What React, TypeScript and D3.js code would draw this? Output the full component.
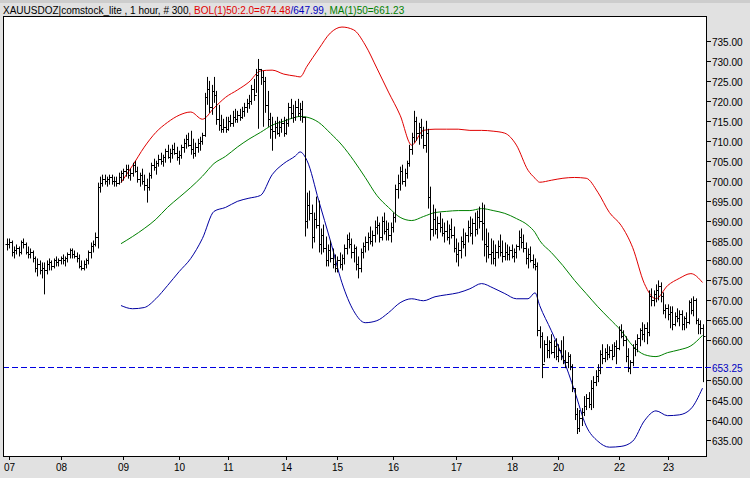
import React from 'react';
import * as d3 from 'd3';

const highs = [
  685.5,685.5,685,683.5,684,683.5,685,685.5,684.5,683.5,
  683,682.5,681,680.5,680,679.5,679.5,680,680.5,680,
  680.5,681,680.5,681,681.5,681,682,683,683,682.5,
  682,681.5,680,680,680.5,682.5,684.5,685,687,699.5,
  701,701.5,701.5,701,701.5,701.5,701,701,702,702.5,
  703,704,704,703,704.5,705,703.5,702,703,701.5,
  700.5,702,704.5,705.5,705,706.5,707,706.5,708,709,
  708,709,709.5,708.5,707.5,709,710.5,711.5,712,712.5,
  710.5,709.5,710.5,711,712,722,726,725,724,726,
  722.5,719,716.5,715.5,716,716,716.5,717.5,718,717.5,
  718,718.5,719.5,720.5,721.5,724,725.5,728,730.5,728,
  727.5,726,722.5,717,716,715,716,715,715.5,716,
  715.5,719.5,720.5,719,720,720.5,719.5,720,716,697,
  697.5,694,692,696,695,688,689,686,684,685,
  683,681.5,681,682,681.5,684,686.5,687,685.5,684,
  683.5,681,683,684.5,686,687,688.5,687.5,690,691,
  689.5,691,692,690,689.5,689.5,692,699,701.5,703.5,
  704,703,705,709,712,717.5,716,714.5,715.5,713.5,
  715,713,698.5,694,693,691,692,690.5,689.5,690,
  689,690.5,688.5,685.5,684.5,686,688,687,690,691,
  690.5,692,692.5,693.5,694.5,694,688,687,685.5,685,
  684,685,686.5,685,684.5,684,683.5,684,683,684,
  687.5,688,686.5,684.5,683,683.5,681.5,680.5,679.5,663.5,
  662,660,661,660,661.5,660,660.5,659,660,661,
  657.5,657,656.5,654,648,643,642.5,643,646,646.5,
  647,650,651,652.5,654,657.5,659,658,659,658.5,
  659,659.5,660,663.5,664,662.5,661,658,655,659,
  660,661.5,663,664.5,664,664.5,672.5,673,672.5,674,
  675,674.5,672,669,669,668.5,668.5,667,668,667.5,
  667.5,666,667,670,670.5,671,670.5,665.5,665,664,
];

const lows = [
  682.5,683,681,680.5,681.5,681,681.5,683,681.5,680.5,
  680.5,679.5,677,676,676.5,675.5,671.5,676.5,677.5,677.5,
  678,678.5,678.5,679,679,678.5,679.5,680.5,680.5,680.5,
  679.5,678,677.5,677.5,678,679,680.5,682,683.5,683,
  697,698.5,699,698.5,699,699,698.5,698.5,699,699.5,
  700,701,700.5,700,701,702,699.5,698.5,699,697.5,
  694.5,697.5,700.5,702.5,701.5,703.5,704,703.5,704.5,705.5,
  704.5,705.5,706.5,705,704,705.5,707,708,708.5,706.5,
  705.5,706,707,707.5,709,711,719,717,716.5,719.5,
  714,712.5,712,712,712,712.5,713.5,713.5,714.5,714.5,
  715,715.5,716,717,718,719,720,722,713,724,
  713.5,717,713.5,710.5,707.5,710.5,711.5,711,712,711,
  711.5,713.5,715.5,714.5,715,716,715,714.5,686,688,
  690,683,684.5,688,682,681.5,682,678.5,678.5,679.5,
  678,677,677,678,677.5,679,681.5,683,680.5,679.5,
  677.5,675.5,677,680.5,682,682.5,684,683.5,684.5,686.5,
  684.5,685,686.5,685,685,684.5,687,689.5,695.5,697.5,
  699,698.5,700.5,703.5,706.5,709.5,710,709,710.5,708,
  707,693,685,686,686.5,685.5,687,686,684.5,685,
  684,685.5,682,679.5,678.5,680.5,683,681,684.5,686,
  684,686,686.5,688,685,681,679.5,680.5,679,679,
  678.5,680.5,681,679.5,680,680,680,680.5,679.5,680.5,
  682.5,683,682,679,678,679.5,678,677.5,661,658,
  650.5,654.5,655.5,655.5,656.5,655.5,655,654.5,655,654,
  653,653,652.5,647,640,636.5,637,638.5,641,642.5,
  643,642.5,643,648.5,649.5,651.5,654,654.5,655,655.5,
  655,656,654,657.5,660.5,658.5,654.5,652,651.5,653.5,
  656,657,658.5,660,659.5,659,661,668.5,668.5,669.5,
  670,669.5,666.5,665.5,665,663,662.5,663.5,664.5,663.5,
  662.5,662.5,663,664,666.5,666,664,661.5,661.5,649.5,
];

const closes = [
  684,684.5,682,682.5,683,682,684.5,684,682,681.5,
  682,680.5,678,679,677.5,678,677.5,679,679.5,678.5,
  680,679.5,680,680.5,680,680.5,681.5,682.5,681.5,681,
  680.5,678.5,678,679,680,682,683.5,684,686,698.5,
  699.5,700.5,700,700.5,701,700,700,699.5,701,702,
  702.5,703,701.5,702,704,702.5,700.5,701.5,700,699,
  698.5,701.5,704,703.5,704.5,705.5,705,706,707.5,706,
  707,708,707,706,706.5,708.5,709.5,710.5,709,708,
  707,708.5,709.5,710,711.5,721,723,718.5,722.5,721.5,
  715.5,714,713,713.5,713,715,714.5,716,715.5,716.5,
  716,717.5,718.5,719.5,720,723,721.5,726.5,728,726,
  725,719,715.5,713,712.5,713.5,712,713.5,714.5,712,
  714.5,718.5,717,716,718.5,717,718,716,690,694,
  692,686,690.5,689,684,686.5,683,680,682.5,680.5,
  679,678,680,679,680.5,683,685.5,684,682,683,
  679,678,682,683.5,684.5,686,685,686.5,688.5,689,
  686,690,687.5,688,686.5,688.5,691,698,699.5,702.5,
  700,702,704.5,708,711,715,712,713.5,711.5,709,
  712,696,688,690.5,688,689.5,688.5,687,687.5,686,
  688,686.5,683,681.5,682.5,685,684,686.5,688.5,687,
  689.5,688,691,690,689.5,684,683.5,681.5,682,680.5,
  682,683.5,682,681,682,681.5,682.5,681,682,683.5,
  686,684.5,683,680.5,681.5,680,679,678.5,662.5,661,
  654,659,657.5,659.5,657,658.5,656,657.5,656,655,
  654.5,656,653.5,648,641.5,638,640.5,642,643.5,645.5,
  644,648,649.5,651,652.5,656.5,655.5,657,656.5,657.5,
  656,658.5,658,662.5,661,660,656,653,654.5,658,
  659,660.5,662.5,661.5,663,662,671,670,671.5,672.5,
  673.5,671,667.5,668,666.5,667,664,666,665.5,666.5,
  664,665.5,664.5,669.5,667.5,670,665,664,663,661,
];

const bandIdx = [49,54,59,64,69,74,79,84,89,94,99,104,109,114,119,124,126,129,134,139,144,149,154,159,164,169,174,179,184,189,194,199,204,209,214,219,224,227,229,234,239,244,249,254,259,264,269,274,279,284,289,294,299];

const upperBand = [699.5,703.8,708.4,712.1,714.6,716.4,717.2,715.4,718.2,720.9,722.7,724.7,727.5,727.7,726.7,726.2,726.0,728.7,733,737,738.5,737.8,734,728.2,722.2,716.4,708.9,712.6,712.9,712.9,712.9,712.6,712.6,712.4,711.9,708.9,702.6,700.6,699.6,700.1,700.6,700.8,700.6,697.1,692,688.8,683.2,674.2,670.4,673.7,675.5,676.7,674.48];

const maBand = [684.2,686,688,690.3,693.3,695.8,698.3,701.1,704.3,706.1,708.4,710.4,712.1,713.9,714.9,715.9,716.1,715.9,714.6,711.9,708.9,705.1,700.8,696.3,693.3,690.8,690,691,692,692.3,692.5,692.5,693,692.5,691.8,690.5,688.8,687,685,682,678.7,675,671.7,668.4,665.4,662.4,658.6,656.4,655.9,656.9,657.6,658.6,661.23];

const lowerBand = [668.7,667.9,668.2,670.4,673.7,677.2,680.5,685.5,692.3,693.3,694.8,695.6,696.3,701.5,704.3,706.2,707.2,705,695,685,674.4,667.4,664.4,664.9,666.9,669.4,670.4,669.9,670.9,671.4,671.9,672.9,674.2,673.1,671.7,670.4,670.4,671.9,668.7,662.4,655.6,647.3,638.5,634.7,633.2,633.4,634.7,639.8,642.3,641.1,641.3,642.8,647.99];

const xTickIdx = [1, 23, 50, 74, 95, 120, 142, 166, 193, 217, 237, 263, 284];
const xTickLabels = ['07','08','09','10','11','14','15','16','17','18','20','22','23'];
const yTicks = [735,730,725,720,715,710,705,700,695,690,685,680,675,670,665,660,650,645,640,635];
const refLevel = 653.25;

const FONT = "'Liberation Sans', Arial, sans-serif";

export default function App() {
  const W = 750, H = 478;
  const L = 3, T = 16, R = 706, B = 456;
  const x = d3.scaleLinear().domain([0, 299]).range([7, 702.5]);
  const y = d3.scaleLinear().domain([635, 735]).range([440, 41]);

  const bandLine = (vals: number[]) =>
    d3.line<number>()
      .x((_, i) => x(bandIdx[i]))
      .y((v) => y(v))
      .curve(d3.curveMonotoneX)(vals) || '';

  const bars = closes.map((c, i) => {
    const o = i === 0 ? c : closes[i - 1];
    const xi = Math.round(x(i)) + 0.5;
    return { xi, h: y(highs[i]), l: y(lows[i]), o: Math.round(y(o)) + 0.5, c: Math.round(y(c)) + 0.5 };
  });

  const refY = Math.round(y(refLevel)) + 0.5;

  return (
    <svg width={W} height={H} style={{ position: 'absolute', left: 0, top: 0, display: 'block' }} fontFamily={FONT}>
      <rect x={0} y={0} width={W} height={H} fill="#e1e1e1" />
      <rect x={0} y={0} width={W} height={3} fill="#cdcdcd" />
      <text x={3} y={14} fontSize={10} fill="#000">
        <tspan>XAUUSDOZ|comstock_lite , 1 hour, # 300</tspan>
        <tspan fill="#e00000">, BOL(1)50:2.0=674.48</tspan>
        <tspan fill="#0000c0">/647.99</tspan>
        <tspan fill="#008000">, MA(1)50=661.23</tspan>
      </text>
      <defs>
        <clipPath id="plotclip">
          <rect x={L + 1} y={T + 1} width={R - L - 1} height={B - T - 1} />
        </clipPath>
      </defs>
      <rect x={L + 0.5} y={T + 0.5} width={R - L} height={B - T} fill="#fff" stroke="none" />
      <g clipPath="url(#plotclip)">
        <line x1={L} x2={R} y1={refY} y2={refY} stroke="#0000e0" strokeWidth={1} strokeDasharray="6,3" />
        <path d={bandLine(upperBand)} fill="none" stroke="#e00000" strokeWidth={1} />
        <path d={bandLine(maBand)} fill="none" stroke="#008000" strokeWidth={1} />
        <path d={bandLine(lowerBand)} fill="none" stroke="#0000a0" strokeWidth={1} />
        <g stroke="#000" strokeWidth={1}>
          {bars.map((b, i) => (
            <g key={i}>
              <line x1={b.xi} x2={b.xi} y1={b.h} y2={b.l} />
              <line x1={b.xi - 2} x2={b.xi} y1={b.o} y2={b.o} />
              <line x1={b.xi} x2={b.xi + 2} y1={b.c} y2={b.c} />
            </g>
          ))}
        </g>
      </g>
      <rect x={L + 0.5} y={T + 0.5} width={R - L} height={B - T} fill="none" stroke="#000" strokeWidth={1} />
      <line x1={R} x2={R + 5} y1={refY} y2={refY} stroke="#0000e0" />
      <text x={R + 6} y={refY + 4} fontSize={10} fill="#0000c0">{refLevel.toFixed(2)}</text>
      {yTicks.map((t) => {
        const yy = Math.round(y(t)) + 0.5;
        return (
          <g key={t}>
            <line x1={R} x2={R + 5} y1={yy} y2={yy} stroke="#000" />
            <text x={R + 6} y={yy + 4} fontSize={10} fill="#000">{t.toFixed(2)}</text>
          </g>
        );
      })}
      {xTickIdx.map((idx, k) => {
        const xx = Math.round(x(idx)) + 0.5;
        return (
          <g key={k}>
            <line x1={xx} x2={xx} y1={B} y2={B + 4} stroke="#000" />
            <text x={xx} y={B + 15} fontSize={10} textAnchor="middle" fill="#000">{xTickLabels[k]}</text>
          </g>
        );
      })}
    </svg>
  );
}
